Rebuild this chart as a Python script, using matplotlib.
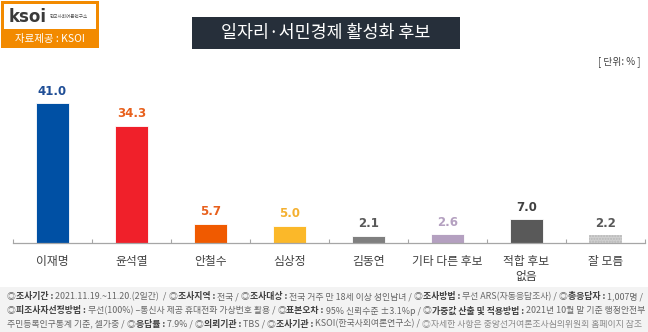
import matplotlib
matplotlib.use("Agg")
import matplotlib.pyplot as plt
from matplotlib.patches import Rectangle

plt.rcParams['font.family'] = ['Noto Sans CJK KR', 'DejaVu Sans']

categories = ["이재명", "윤석열", "안철수", "심상정", "김동연", "기타 다른 후보", "적합 후보\n없음", "잘 모름"]
values = [41.0, 34.3, 5.7, 5.0, 2.1, 2.6, 7.0, 2.2]
bar_colors = ["#0050a4", "#f0202a", "#f05a00", "#fbb829", "#7f7f7f", "#b4a0c0", "#595959", "#d0d0d0"]
label_colors = ["#1f4e96", "#e8601c", "#e8601c", "#f4b030", "#595959", "#b4a0c0", "#404040", "#595959"]
title = "일자리·서민경제 활성화 후보"
unit = "[ 단위: % ]"

W, H = 648, 332
fig = plt.figure(figsize=(W / 100, H / 100), dpi=100)
fig.patch.set_facecolor("white")

def fx(x):
    return x / W

def fy(y):
    return 1 - y / H

# main axes
x0, x1, ybase, ytop = 13, 645, 243, 80
ax = fig.add_axes([fx(x0), fy(ybase), (x1 - x0) / W, (ybase - ytop) / H])
ppu = 140 / 41.0
ax.set_ylim(0, (ybase - ytop) / ppu)
ax.set_xlim(-0.5, len(categories) - 0.5)
xs = list(range(len(categories)))
bars = ax.bar(xs, values, width=0.41, color=bar_colors, edgecolor="white", linewidth=0.6, zorder=2)
bars[-1].set_hatch("......")
bars[-1].set_edgecolor("#b8b8b8")
bars[-1].set_linewidth(0)
for xi, v, c in zip(xs, values, label_colors):
    ax.text(xi, v + 1.6, f"{v:.1f}", ha="center", va="bottom", fontsize=8.5,
            fontweight="bold", color=c, family=["DejaVu Sans"])
for s in ["top", "right", "left"]:
    ax.spines[s].set_visible(False)
ax.spines["bottom"].set_color("#a6a6a6")
ax.spines["bottom"].set_linewidth(0.9)
ax.set_yticks([])
ax.set_xticks(xs)
ax.set_xticklabels(categories, fontsize=8.5, color="#404040", linespacing=1.15)
ax.tick_params(axis="x", which="major", length=0, pad=9)
ax.set_xticks([i - 0.5 for i in range(len(categories) + 1)], minor=True)
ax.tick_params(axis="x", which="minor", length=3, direction="in", color="#a6a6a6", width=0.8)
ax.patch.set_alpha(0)

# title box
fig.patches.append(Rectangle((fx(192), fy(49)), (460 - 192) / W, 32 / H, transform=fig.transFigure,
                             facecolor="#262f3a", edgecolor="none"))
fig.text(fx(326), fy(33), title, ha="center", va="center", fontsize=12.5, color="white")

# unit
fig.text(fx(640), fy(62), unit, ha="right", va="center", fontsize=7, color="#404040")

# logo
fig.patches.append(Rectangle((fx(1), fy(48)), 98 / W, 47 / H, transform=fig.transFigure,
                             facecolor="#f28a00", edgecolor="none"))
fig.patches.append(Rectangle((fx(4), fy(29)), 92 / W, 25 / H, transform=fig.transFigure,
                             facecolor="white", edgecolor="none"))
fig.text(fx(9), fy(17), "ksoi", ha="left", va="center", fontsize=12, fontweight="bold",
         color="#3a3a3a", family=["DejaVu Sans"])
fig.text(fx(50), fy(17), "한국사회여론연구소", ha="left", va="center", fontsize=3.3, color="#555555")
fig.text(fx(50), fy(39), "자료제공 : KSOI", ha="center", va="center", fontsize=7.5, color="white")

# footer
fig.patches.append(Rectangle((0, 0), 1, (H - 287) / H, transform=fig.transFigure,
                             facecolor="#f3f3f3", edgecolor="none"))

lines = [
    [("◎", "n"), ("조사기간 : ", "b"), ("2021.11.19.~11.20.(2일간)  / ", "n"), ("◎", "n"), ("조사지역 : ", "b"),
     ("전국 / ", "n"), ("◎", "n"), ("조사대상 : ", "b"), ("전국 거주 만 18세 이상 성인남녀 / ", "n"),
     ("◎", "n"), ("조사방법 : ", "b"), ("무선 ARS(자동응답조사) / ", "n"), ("◎", "n"), ("총응답자 : ", "b"),
     ("1,007명 /", "n")],
    [("◎", "n"), ("피조사자선정방법 : ", "b"), ("무선(100%) –통신사 제공 휴대전화 가상번호 활용 / ", "n"),
     ("◎", "n"), ("표본오차 : ", "b"), ("95% 신뢰수준 ±3.1%p / ", "n"), ("◎", "n"),
     ("가중값 산출 및 적용방법 : ", "b"), ("2021년 10월 말 기준 행정안전부", "n")],
    [("주민등록인구통계 기준, 셀가중 / ", "n"), ("◎", "n"), ("응답률 : ", "b"), ("7.9% / ", "n"),
     ("◎", "n"), ("의뢰기관 : ", "b"), ("TBS / ", "n"), ("◎", "n"), ("조사기관 : ", "b"),
     ("KSOI(한국사회여론연구소) / ", "n"), ("◎자세한 사항은 중앙선거여론조사심의위원회 홈페이지 참조", "l")],
]
line_y = [297, 311, 324]
renderer = fig.canvas.get_renderer()
target = 636.0
base = 5.6
for segs, yy in zip(lines, line_y):
    # measure at base size
    total = 0
    for txt, kind in segs:
        weight = "bold" if kind == "b" else "normal"
        t = fig.text(0, 0, txt, fontsize=base, fontweight=weight)
        total += t.get_window_extent(renderer=renderer).width
        t.remove()
    fs = min(base * target / total, 6.8)
    xcur = 7
    for txt, kind in segs:
        color = {"n": "#666666", "b": "#404040", "l": "#8a8a8a"}[kind]
        weight = "bold" if kind == "b" else "normal"
        t = fig.text(fx(xcur), fy(yy), txt, ha="left", va="center", fontsize=fs,
                     fontweight=weight, color=color)
        xcur += t.get_window_extent(renderer=renderer).width

fig.savefig("out.png", dpi=100, facecolor="white")
